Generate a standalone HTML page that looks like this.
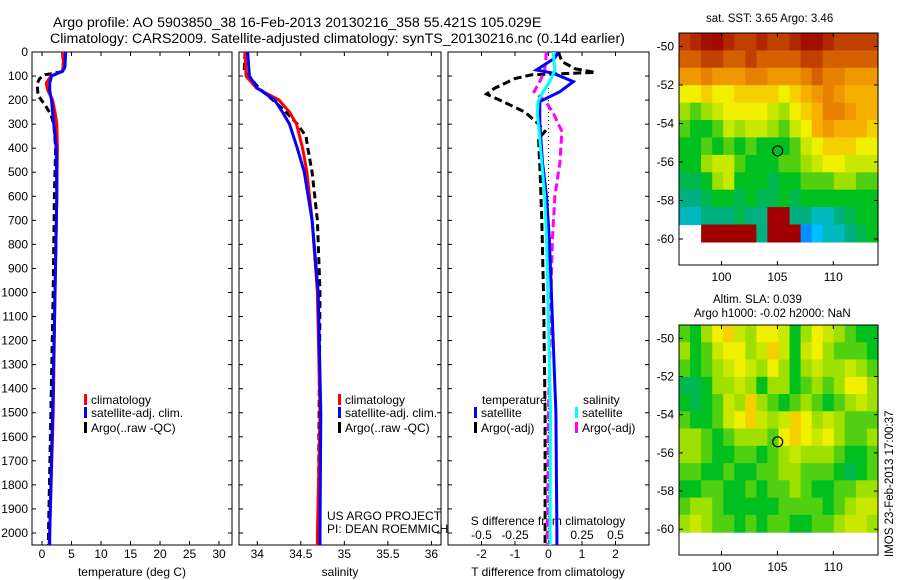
<!DOCTYPE html>
<html><head><meta charset="utf-8"><style>
body{margin:0;background:#fff;}
svg{display:block;font-family:"Liberation Sans",sans-serif;}
text{font-size:12px;fill:#000;}
</style></head><body>
<svg id="c" width="900" height="580" viewBox="0 0 900 580">
<text x="53" y="27" style="font-size:14.2px">Argo profile: AO 5903850_38 16-Feb-2013 20130216_358 55.421S 105.029E</text>
<text x="50" y="43" style="font-size:14.2px">Climatology: CARS2009. Satellite-adjusted climatology: synTS_20130216.nc (0.14d earlier)</text>
<text x="706" y="22" style="font-size:11.5px">sat. SST: 3.65 Argo: 3.46</text>
<text x="713" y="303" style="font-size:11.5px">Altim. SLA: 0.039</text>
<text x="694" y="317" style="font-size:11.5px">Argo h1000: -0.02 h2000: NaN</text>
<text transform="translate(893,557) rotate(-90)" style="font-size:11.5px">IMOS 23-Feb-2013 17:00:37</text>
<text x="327" y="520">US ARGO PROJECT</text>
<text x="327" y="533">PI: DEAN ROEMMICH</text>
<g id="g"></g>
</svg>
<script>
// depth grid (m)
const tDepth=[0,60,80,100,130,160,200,250,300,400,600,1000,1500,2000,2050];
const tempClim=[3.6,3.6,3.4,1.5,0.7,1.0,1.8,2.2,2.5,2.6,2.5,2.2,1.9,1.3,1.2];
const tempSat=[4.0,3.9,3.5,1.6,1.3,1.3,1.6,1.8,2.0,2.4,2.5,2.2,1.8,1.3,1.3];
const argoDepth=[0,60,80,95,110,130,180,220,260,300,400,600,1000,1500,2000,2050];
const tempArgo=[3.5,3.6,3.9,0.5,-0.4,-0.8,-0.7,0.5,1.5,2.0,2.3,2.1,1.9,1.5,1.1,1.1];
const sDepth=[0,100,150,200,250,300,400,500,700,1000,1500,2000,2050];
const salClim=[33.86,33.87,33.99,34.25,34.37,34.45,34.52,34.57,34.63,34.69,34.72,34.69,34.69];
const salSat=[33.89,33.91,34.0,34.2,34.29,34.37,34.46,34.54,34.63,34.70,34.73,34.72,34.72];
const salArgoDepth=[0,80,100,150,200,250,300,350,400,500,700,1000,1500,2000,2050];
const salArgo=[33.86,33.85,33.9,34.02,34.18,34.33,34.46,34.56,34.58,34.63,34.69,34.72,34.71,34.70,34.70];
const dDepth=[0,25,75,88,123,165,206,295,460,600,770,935,1500,2000,2050];
const dTsat=[0.29,0.19,-0.36,0.14,0.74,0.34,-0.26,-0.26,-0.18,-0.06,0.02,0.07,0.22,0.25,0.25];
const dArgoDepth=[0,40,70,85,95,110,150,175,210,250,300,330,360,500,700,1000,1500,2000,2050];
const dTargo=[0.3,0.4,0.8,1.4,-0.5,-1.0,-1.6,-1.85,-1.3,-0.7,-0.3,-0.1,-0.3,-0.25,-0.2,-0.15,-0.1,-0.1,-0.1];
const dSDepth=[0,75,123,165,206,260,330,460,600,770,935,1500,2000,2050];
const dSsat=[0.035,0.048,0.01,-0.04,-0.078,-0.083,-0.07,-0.05,-0.028,-0.015,-0.008,0.015,0.012,0.012];
const dSargo=[-0.015,-0.028,-0.065,-0.108,-0.02,0.04,0.1,0.085,0.048,0.03,0.022,0.0,-0.008,-0.008];
const depthTicks=[0,100,200,300,400,500,600,700,800,900,1000,1100,1200,1300,1400,1500,1600,1700,1800,1900,2000];
const tempTicks=[0,5,10,15,20,25,30];
const salTicks=[34,34.5,35,35.5,36];
const salTickLabels=["34","34.5","35","35.5","36"];
const dTTicks=[-2,-1,0,1,2];
const dSTicks=[-0.5,-0.25,0,0.25,0.5];
const dSTickLabels=["-0.5","-0.25","0","0.25","0.5"];
const lonTicks=[100,105,110];
const latTicks=[-50,-52,-54,-56,-58,-60];
const argoLon=105.029, argoLat=-55.421;
const sstGrid=[
[8,8.5,9,9.5,8.5,8,8,8.5,8,8,8.5,9,9,8.5,8,8,8,8],
[7.5,7.5,8,8,7.5,7.5,8,7.5,7.5,7.5,7.5,8,8,7.5,7.5,7.5,7.5,7.5],
[6.5,6.5,7,6.5,6.5,6.5,7,7,6.5,6.5,6.5,7,7.5,7,7,6.5,6.5,6.5],
[5,5,5.5,5,5,5.5,5.5,5.5,5.5,5,5.5,6,6.5,7,6.5,6,6,6],
[4,3.5,4,4.5,5,5,5,5,4.5,4,5,5.5,6,7,7,6.5,6,6],
[3.5,3,3,3.5,4.5,4,4.5,4.5,4,3.5,4.5,5,6,6.5,6,6,6,5.5],
[3,3,3.5,3,3.5,3,3.5,3,3,3,3.5,4.5,5,5.5,5.5,5.5,5,5],
[3,3,4,4.5,4.5,3.5,3,3,3,3.5,3.5,4,4.5,5,5,4.5,4.5,4.5],
[2.5,2.5,3,4,4.5,3,3,3,2.5,3,3,3.5,3.5,3.5,4,4,3.5,3.5],
[2,2,2.5,3,3,2.5,3,2.5,2.5,3,2.5,3,3,3,3,3,3,3],
[1.5,1.5,2,2,2,2.5,2,2,10,10,2,2,1.5,1.5,2,2.5,3,3],
[-1,-1,10,10,10,10,10,2,10,10,10,0.5,1,1.5,1.5,2,2.5,3]];
const slaGrid=[
[3.5,3,4,5,5.5,4.5,4,5,5,4.5,3,4,5,4.5,4,3.5,3,3],
[4,3,3.5,4.5,5,5,4,4.5,5.5,4.5,3,4.5,5,4,3.5,3.5,3.5,3],
[3.5,3,3.5,4,4.5,5,4.5,4,5,4,3,4,4.5,4,4,4.5,4,3.5],
[2.5,2.5,3,4,4,4.5,4,3,4,4,3,3.5,4,3.5,4,5,5,4],
[3,2.5,3,3.5,4.5,4,5.5,4,3.5,3,3.5,4,3.5,3,3.5,4,4.5,4],
[3.5,3,3,3.5,4.5,5,5.5,4.5,4,4.5,5.5,5,4,4.5,4,3.5,3.5,3.5],
[4,4,3.5,3,3.5,4,4,4,3.5,5,5.5,5,4.5,5,4,3.5,3.5,4],
[4,4,3.5,3,3,3.5,3.5,3,3.5,4,4.5,4,4,4,3.5,3,3,3.5],
[3.5,3.5,3,3,3.5,3,3,3.5,3.5,4,4,3.5,3.5,3.5,3,2.5,3,3.5],
[3,3,3.5,3.5,3,3,3.5,3,3.5,3.5,4,3.5,3,3,3.5,3.5,4,4],
[3.5,4,4,3.5,3,3,3,3,3,3.5,3.5,3.5,3.5,3,3.5,4,4.5,4.5],
[4,4.5,4,3.5,3.5,3,3.5,3,3.5,3.5,3,3,3.5,3.5,4,4.5,4.5,4]];

const NS="http://www.w3.org/2000/svg";
const G=document.getElementById('g');
function mk(t,a,p){const e=document.createElementNS(NS,t);for(const k in a)e.setAttribute(k,a[k]);(p||G).appendChild(e);return e;}
const Y0=52,Y1=545,DMAX=2050;
const yD=d=>Y0+d/DMAX*(Y1-Y0);
function lin(d0,d1,r0,r1){return v=>r0+(v-d0)/(d1-d0)*(r1-r0);}
const panels=[
 {x0:32,x1:232,v0:-1.7,v1:32.2,name:'temperature-panel'},
 {x0:239,x1:441,v0:33.79,v1:36.11,name:'salinity-panel'},
 {x0:448,x1:649,v0:-3,v1:3,name:'difference-panel'}];
panels.forEach(p=>p.x=lin(p.v0,p.v1,p.x0,p.x1));
function line(xs,ds,xf,color,dash,name){
  const pts=xs.map((v,i)=>xf(v).toFixed(1)+','+yD(ds[i]).toFixed(1)).join(' ');
  const e=mk('polyline',{points:pts,fill:'none',stroke:color,'stroke-width':3});
  if(dash)e.setAttribute('stroke-dasharray',dash);
  
  
}
panels.forEach((p,pi)=>{
  const f=mk('rect',{x:p.x0,y:Y0,width:p.x1-p.x0,height:Y1-Y0,fill:'none',stroke:'#000','stroke-width':1});
  
  
  depthTicks.forEach(d=>{
    const y=yD(d);
    mk('line',{x1:p.x0,x2:p.x0+4,y1:y,y2:y,stroke:'#000'});
    mk('line',{x1:p.x1,x2:p.x1-4,y1:y,y2:y,stroke:'#000'});
    if(pi===0){const t=mk('text',{x:28,y:y+4,'text-anchor':'end'});t.textContent=d;
      
      }
  });
});
function xticks(p,vals,labels,ly,name){
  vals.forEach((v,i)=>{const x=p.x(v);
    mk('line',{x1:x,x2:x,y1:Y1,y2:Y1-4,stroke:'#000'});
    mk('line',{x1:x,x2:x,y1:Y0,y2:Y0+4,stroke:'#000'});
    if(ly){const t=mk('text',{x:x,y:ly,'text-anchor':'middle'});t.textContent=labels[i];
      
      }
  });
}
xticks(panels[0],tempTicks,tempTicks.map(String),558,'temperature-tick-label');
xticks(panels[1],salTicks,salTickLabels,558,'salinity-tick-label');
xticks(panels[2],dTTicks,dTTicks.map(String),558,'t-difference-tick-label');
const sx=v=>panels[2].x(v*4);
dSTicks.forEach((v,i)=>{const t=mk('text',{x:sx(v),y:539,'text-anchor':'middle'});t.textContent=dSTickLabels[i];
  
  });
[['temperature (deg C)',132,'temperature-axis-title'],['salinity',340,'salinity-axis-title'],['T difference from climatology',548,'t-difference-axis-title'],['S difference from climatology',548,'s-difference-axis-title']].forEach((a,i)=>{
  const t=mk('text',{x:a[1],y:i==3?525:576,'text-anchor':'middle'});t.textContent=a[0];
  
  });
const P0=panels[0],P1=panels[1],P2=panels[2];
line(tempArgo,argoDepth,P0.x,'#000','7,4','temp-argo-line');
line(tempClim,tDepth,P0.x,'#f00',null,'temp-climatology-line');
line(tempSat,tDepth,P0.x,'#00f',null,'temp-satellite-line');
line(salArgo,salArgoDepth,P1.x,'#000','7,4','sal-argo-line');
line(salClim,sDepth,P1.x,'#f00',null,'sal-climatology-line');
line(salSat,sDepth,P1.x,'#00f',null,'sal-satellite-line');
const zl=mk('line',{x1:P2.x(0),x2:P2.x(0),y1:yD(150),y2:Y1,stroke:'#000','stroke-dasharray':'1,3'});


line(dTargo,dArgoDepth,P2.x,'#000','8,4','t-diff-argo-line');
line(dSargo,dSDepth,sx,'#f0f','8,4','s-diff-argo-line');
line(dTsat,dDepth,P2.x,'#00f',null,'t-diff-satellite-line');
line(dSsat,dSDepth,sx,'#0ff',null,'s-diff-satellite-line');
function leg(x,y,color,label,name){
  const r=mk('rect',{x:x,y:y-10,width:3,height:11,fill:color});
  
  
  const t=mk('text',{x:x+7,y:y});t.textContent=label;
  
  
}
[[84,'temp'],[338,'sal']].forEach(a=>{
  leg(a[0],404,'#f00','climatology',a[1]+'-legend-climatology');
  leg(a[0],417,'#00f','satellite-adj. clim.',a[1]+'-legend-satellite');
  leg(a[0],432,'#000','Argo(..raw -QC)',a[1]+'-legend-argo');
});
{const t=mk('text',{x:482,y:404});t.textContent='temperature';
 
 
 const s=mk('text',{x:583,y:404});s.textContent='salinity';
 
 }
leg(474,417,'#00f','satellite','diff-legend-t-satellite');
leg(474,432,'#000','Argo(-adj)','diff-legend-t-argo');
leg(575,417,'#0ff','satellite','diff-legend-s-satellite');
leg(575,432,'#f0f','Argo(-adj)','diff-legend-s-argo');
const cstops=[[0,[0,96,255]],[1,[0,192,255]],[2,[0,176,128]],[3,[0,192,32]],[4,[160,224,0]],[5,[240,240,0]],[6,[248,176,0]],[7,[232,128,0]],[8,[192,64,0]],[9,[160,16,0]],[10,[160,0,0]]];
function cmap(v){v=Math.max(0,Math.min(10,v));const i=Math.min(9,Math.floor(v));const f=v-i;const a=cstops[i][1],b=cstops[i+1][1];
  return 'rgb('+a.map((c,k)=>Math.round(c+(b[k]-c)*f)).join(',')+')';}
function map(top,bot,grid,name){
  const X0=679,X1=878,LON0=96.2,LON1=114,LATT=-49.3,LATB=-61.35;
  const lx=lin(LON0,LON1,X0,X1),ly=lin(LATT,LATB,top,bot);
  const rows=grid.length,cols=grid[0].length,dLon=(LON1-LON0)/cols,dLat=(-49.3+60.15)/rows;
  grid.forEach((row,r)=>row.forEach((v,c)=>{
    if(v<0)return;
    const x=lx(LON0+c*dLon),y=ly(LATT-r*dLat);
    const e=mk('rect',{x:x.toFixed(1),y:y.toFixed(1),width:(lx(LON0+(c+1)*dLon)-x+0.6).toFixed(1),height:(ly(LATT-(r+1)*dLat)-y+0.6).toFixed(1),fill:cmap(v)});
    
    
  }));
  const f=mk('rect',{x:X0,y:top,width:X1-X0,height:bot-top,fill:'none',stroke:'#000'});
  
  
  latTicks.forEach(l=>{const y=ly(l);
    mk('line',{x1:X0,x2:X0+4,y1:y,y2:y,stroke:'#000'});mk('line',{x1:X1,x2:X1-4,y1:y,y2:y,stroke:'#000'});
    const t=mk('text',{x:674,y:y+4,'text-anchor':'end','style':'font-size:12px'});t.textContent=l;
    
    });
  lonTicks.forEach(l=>{const x=lx(l);
    mk('line',{x1:x,x2:x,y1:bot,y2:bot-4,stroke:'#000'});mk('line',{x1:x,x2:x,y1:top,y2:top+4,stroke:'#000'});
    const t=mk('text',{x:x,y:bot+16,'text-anchor':'middle','style':'font-size:12px'});t.textContent=l;
    
    });
  const m=mk('circle',{cx:lx(argoLon),cy:ly(argoLat),r:5,fill:'none',stroke:'#000','stroke-width':1.2});
  
  
}
map(33,265,sstGrid,'sst-map');
map(325,555,slaGrid,'sla-map');
</script>
</body></html>
